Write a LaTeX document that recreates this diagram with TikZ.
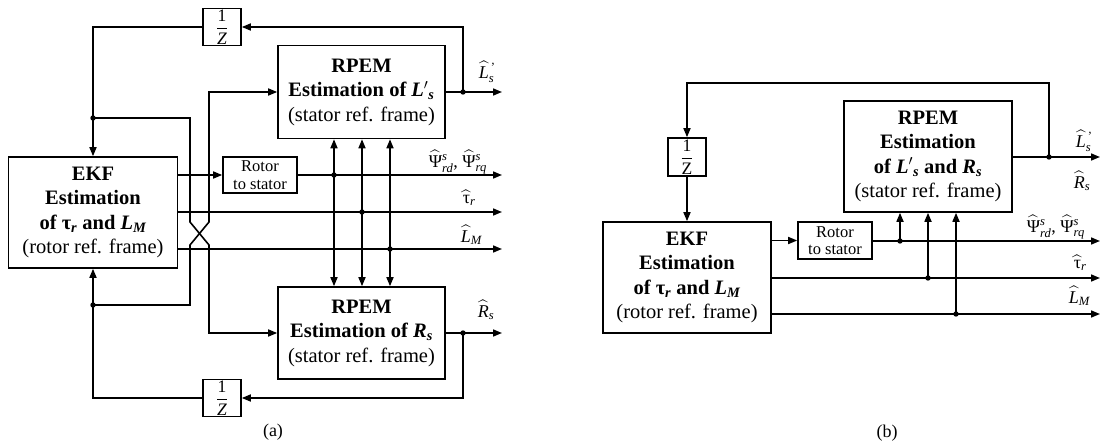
\documentclass[tikz,border=0pt]{standalone}
\usepackage{amsmath}
\usepackage{fontspec}
\setmainfont{Liberation Serif}
\usetikzlibrary{arrows.meta}
% italic / upright text inside math, sized for sub- and superscripts
\newcommand\ti[1]{\text{\itshape #1}}
\newcommand\tu[1]{\text{#1}}
\tikzset{
  blk/.style={draw, line width=1.6pt, inner sep=0pt, align=center,
              font=\fontsize{20.5}{24.5}\selectfont},
  smallblk/.style={draw, line width=1.6pt, inner sep=0pt, align=center,
              minimum width=74pt, minimum height=36pt,
              font=\fontsize{16.5}{17.5}\selectfont},
  zblk/.style={draw, line width=1.6pt, inner sep=0pt,
              minimum width=38pt, minimum height=37pt,
              font=\fontsize{17.5}{19}\selectfont},
  lbl/.style={inner sep=0pt, anchor=base west, font=\fontsize{18}{20}\selectfont},
  captxt/.style={inner sep=0pt, font=\fontsize{18}{20}\selectfont},
  arr/.style={-{Triangle[length=9pt,width=7pt]}},
  darr/.style={{Triangle[length=9pt,width=7pt]}-{Triangle[length=9pt,width=7pt]}}
}
\begin{document}
\begin{tikzpicture}[x=1pt,y=-1pt,line width=1.6pt]
\useasboundingbox (0,0) rectangle (1101,447);

% ---------------- (a) separate RPEM estimators ----------------
\node[blk, minimum width=169pt, minimum height=111pt] (ekfA) at (93,212.5)
  {\textbf{EKF}\\\textbf{Estimation}\\\textbf{of τ\textsubscript{\itshape r} and \itshape L\textsubscript{M}}\\(rotor ref. frame)};
\node[smallblk] (rotA) at (260,175) {Rotor\\to stator};
\node[blk, minimum width=167pt, minimum height=93pt] (rpemLs) at (361.5,92)
  {\textbf{RPEM}\\\textbf{Estimation of \itshape L\/$'$\textsubscript{s}}\\(stator ref. frame)};
\node[blk, minimum width=167pt, minimum height=92pt] (rpemRs) at (361.5,333)
  {\textbf{RPEM}\\\textbf{Estimation of \itshape R\textsubscript{s}}\\(stator ref. frame)};
\node[zblk] (zA1) at (222,27) {$\dfrac{\tu{1}}{\ti{Z}}$};
\node[zblk] (zA2) at (222,398) {$\dfrac{\tu{1}}{\ti{Z}}$};

\coordinate (jLs) at (463,92);
\coordinate (jRs) at (463,333);
\coordinate (jTop) at (93,118);
\coordinate (jBot) at (93,305);
\coordinate (jPsiA) at (334,175);
\coordinate (jTauA) at (362,212);
\coordinate (jLmA) at (390,249);
\coordinate (oLsA) at (502,92);
\coordinate (oRsA) at (502,333);
\coordinate (oPsiA) at (502,175);
\coordinate (oTauA) at (502,212);
\coordinate (oLmA) at (502,249);

% outputs of the two RPEM blocks and their delayed feedback
\draw[arr] (rpemLs.east) -- (oLsA);
\draw[arr] (jLs) |- (zA1.east);
\draw[arr] (zA1.west) -| (ekfA.north);
\draw[arr] (rpemRs.east) -- (oRsA);
\draw[arr] (jRs) |- (zA2.east);
\draw (zA2.west) -| (jBot);
\draw[arr] (jBot) -- (ekfA.south);
% crossed feedback to the opposite RPEM block
\draw[arr] (jTop) -| (190,222) -- (209,245) |- (rpemRs.west);
\draw[arr] (jBot) -| (190,245) -- (209,222) |- (rpemLs.west);

% EKF outputs
\draw[arr] (ekfA.east |- rotA.west) -- (rotA.west);
\draw[arr] (rotA.east) -- (oPsiA);
\draw[arr] (oTauA -| ekfA.east) -- (oTauA);
\draw[arr] (oLmA -| ekfA.east) -- (oLmA);
\foreach \j in {jPsiA,jTauA,jLmA}
  \draw[darr] (rpemLs.south -| \j) -- (rpemRs.north -| \j);

\foreach \j in {jLs,jRs,jTop,jBot,jPsiA,jTauA,jLmA}
  \fill (\j) circle (2.7pt);

\node[lbl] (lLsA) at (478,78) {$\widehat{\ti{L}}{}_{\ti{s}}^{\,\tu{'}}$};
\node[lbl] (lPsiA) at (428,167) {$\widehat{\tu{Ψ}}{}^{\ti{s}}_{\ti{rd}}\tu{, }\widehat{\tu{Ψ}}{}^{\ti{s}}_{\ti{rq}}$};
\node[lbl] (lTauA) at (462,203) {$\widehat{\tu{τ}}{}_{\ti{r}}$};
\node[lbl] (lLmA) at (460,242) {$\widehat{\ti{L}}{}_{\ti{M}}$};
\node[lbl] (lRsA) at (477,317) {$\widehat{\ti{R}}{}_{\ti{s}}$};
\node[captxt] (capA) at (273,432) {(a)};

% ---------------- (b) joint RPEM estimator ----------------
\node[blk, minimum width=168pt, minimum height=111pt] (ekfB) at (687,277.5)
  {\textbf{EKF}\\\textbf{Estimation}\\\textbf{of τ\textsubscript{\itshape r} and \itshape L\textsubscript{M}}\\(rotor ref. frame)};
\node[smallblk, minimum height=37pt] (rotB) at (835,240.5) {Rotor\\to stator};
\node[blk, minimum width=168pt, minimum height=111pt] (rpemB) at (928,156.5)
  {\textbf{RPEM}\\\textbf{Estimation}\\\textbf{of \itshape L\/$'$\textsubscript{s}\upshape{} and \itshape R\textsubscript{s}}\\(stator ref. frame)};
\node[zblk, minimum height=38pt] (zB) at (687,157) {$\dfrac{\tu{1}}{\tu{Z}}$};

\coordinate (jLsB) at (1049,157);
\coordinate (jPsiB) at (900,241);
\coordinate (jTauB) at (928,278);
\coordinate (jLmB) at (956,314);
\coordinate (oLsB) at (1100,157);
\coordinate (oPsiB) at (1100,241);
\coordinate (oTauB) at (1100,278);
\coordinate (oLmB) at (1100,314);

\draw[arr] (rpemB.east |- jLsB) -- (oLsB);
\draw[arr] (jLsB) -- (1049,83) -| (zB.north);
\draw[arr] (zB.south) -- (ekfB.north);
\draw[arr] (ekfB.east |- rotB.west) -- (rotB.west);
\draw[arr] (rotB.east |- oPsiB) -- (oPsiB);
\draw[arr] (oTauB -| ekfB.east) -- (oTauB);
\draw[arr] (oLmB -| ekfB.east) -- (oLmB);
\foreach \j in {jPsiB,jTauB,jLmB}
  \draw[arr] (\j) -- (rpemB.south -| \j);
\foreach \j in {jLsB,jPsiB,jTauB,jLmB}
  \fill (\j) circle (2.7pt);

\node[lbl] (lLsB) at (1075,147) {$\widehat{\ti{L}}{}_{\ti{s}}^{\,\tu{'}}$};
\node[lbl] (lRsB) at (1073,188) {$\widehat{\ti{R}}{}_{\ti{s}}$};
\node[lbl] (lPsiB) at (1026,232) {$\widehat{\tu{Ψ}}{}^{\ti{s}}_{\ti{rd}}\tu{, }\widehat{\tu{Ψ}}{}^{\ti{s}}_{\ti{rq}}$};
\node[lbl] (lTauB) at (1073,268) {$\widehat{\tu{τ}}{}_{\ti{r}}$};
\node[lbl] (lLmB) at (1068,303) {$\widehat{\ti{L}}{}_{\ti{M}}$};
\node[captxt] (capB) at (887,433) {(b)};
\end{tikzpicture}
\end{document}
